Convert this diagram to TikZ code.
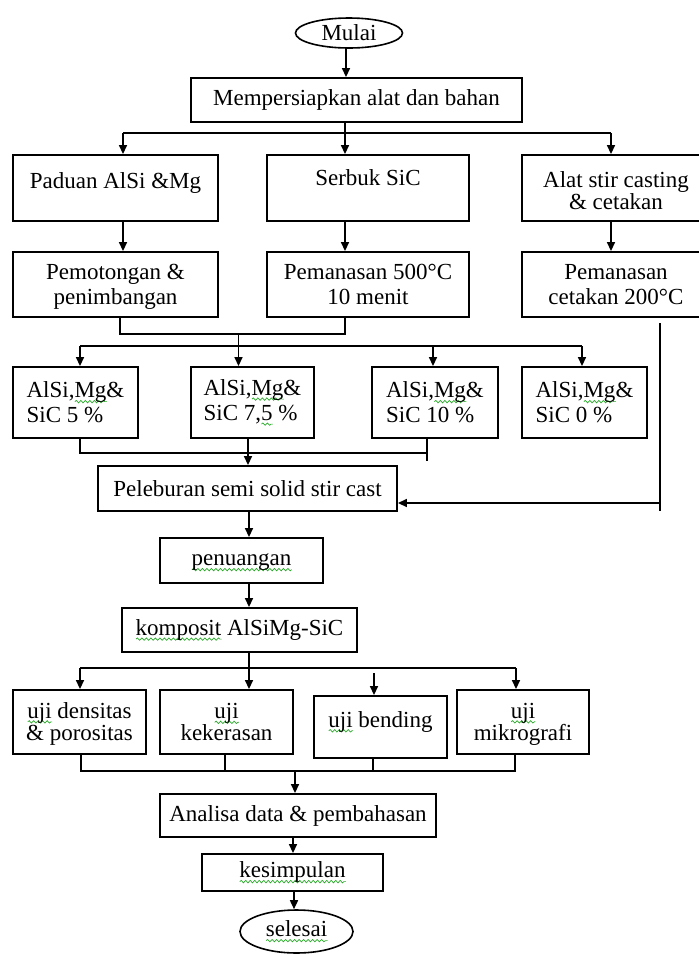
\documentclass[tikz,border=0pt]{standalone}
\usepackage{fontspec}
\setmainfont{Liberation Serif}
\usetikzlibrary{arrows.meta,shapes.geometric,decorations.pathmorphing}
\definecolor{sqgreen}{RGB}{40,170,40}
\newsavebox\sqbox
\newlength\sqlen
\newcommand\gsq[1]{\sbox\sqbox{#1}\settowidth\sqlen{\usebox\sqbox}%
  \rlap{\tikz[baseline=0pt,x=1pt,y=1pt]\draw[sqgreen,line width=0.7pt,decorate,
    decoration={snake,amplitude=1.2pt,segment length=4.5pt}] (0,-3.8) -- (\sqlen,-3.8);}%
  \usebox\sqbox}
\newcommand\vs[2]{\rule[-#2pt]{0pt}{\dimexpr#1pt+#2pt\relax}}
\begin{document}
\begin{tikzpicture}[x=1pt,y=-1pt,
  pbox/.style={draw, line width=1.9pt, rectangle, inner sep=0pt, align=center,
    font=\fontsize{23}{25}\selectfont},
  tbox/.style={pbox, font=\fontsize{23}{22}\selectfont},
  term/.style={draw, ellipse, line width=1.6pt, inner sep=0pt,
    font=\fontsize{23}{25}\selectfont},
  ln/.style={line width=1.6pt},
  arr/.style={ln, -{Triangle[length=9pt,width=8pt]}}]
\useasboundingbox (0,0) rectangle (699,954);
\clip (0,0) rectangle (699,954);
% nodes
\node[term, minimum width=107pt, minimum height=30pt] (mulai) at (349,33) {Mulai};
\node[pbox, minimum width=331pt, minimum height=44pt] (prep) at (356.5,100) {Mempersiapkan alat dan bahan};
\node[pbox, minimum width=205pt, minimum height=66pt] (paduan) at (115.5,188) {\vs{16}{16}Paduan AlSi \&Mg};
\node[pbox, minimum width=202pt, minimum height=66pt] (serbuk) at (368,188) {\vs{16}{22}Serbuk SiC};
\node[pbox, minimum width=188pt, minimum height=66pt, font=\fontsize{23}{22}\selectfont] (alat) at (616,188) {\vs{22}{0}Alat stir casting\\\& cetakan};
\node[pbox, minimum width=205pt, minimum height=65pt] (potong) at (115.5,284.5) {\vs{20}{0}Pemotongan \&\\penimbangan};
\node[pbox, minimum width=202pt, minimum height=65pt] (panas) at (368,284.5) {Pemanasan 500°C\\10 menit};
\node[pbox, minimum width=188pt, minimum height=65pt] (cetak) at (616,284.5) {Pemanasan\\cetakan 200°C};
\node[pbox, align=left, minimum width=125pt, minimum height=71pt] (k1) at (75.5,402.5) {AlSi,\gsq{Mg}\&\\SiC 5 \%};
\node[pbox, align=left, minimum width=123pt, minimum height=71pt] (k2) at (252.5,402.5) {AlSi,\gsq{Mg}\&\\SiC 7,\gsq{5} \%};
\node[pbox, align=left, minimum width=126pt, minimum height=71pt] (k3) at (435,402.5) {AlSi,\gsq{Mg}\&\\SiC 10 \%};
\node[pbox, align=left, minimum width=125pt, minimum height=71pt] (k4) at (584.5,402.5) {AlSi,\gsq{Mg}\&\\SiC 0 \%};
\node[pbox, minimum width=299pt, minimum height=45pt] (lebur) at (247.5,488.5) {Peleburan semi solid stir cast};
\node[pbox, minimum width=163pt, minimum height=45pt] (tuang) at (241.5,560.5) {\vs{16}{5}\gsq{penuangan}};
\node[pbox, minimum width=235pt, minimum height=44pt] (komp) at (239.5,630) {\gsq{komposit} AlSiMg-SiC};
\node[tbox, minimum width=133pt, minimum height=64pt] (u1) at (79.5,722) {\vs{19}{0}\gsq{uji} densitas\\\& porositas};
\node[tbox, minimum width=133pt, minimum height=64pt] (u2) at (226.5,722) {\gsq{uji}\\kekerasan};
\node[tbox, minimum width=133pt, minimum height=62pt] (u3) at (380.5,727) {\vs{16}{16}\gsq{uji} bending};
\node[tbox, minimum width=132pt, minimum height=64pt] (u4) at (523,722) {\vs{19}{0}\gsq{uji}\\mikrografi};
\node[pbox, minimum width=276pt, minimum height=43pt] (anal) at (298,815.5) {Analisa data \& pembahasan};
\node[pbox, minimum width=181pt, minimum height=37pt] (kes) at (292.5,872.5) {\gsq{kesimpulan}};
\node[term, minimum width=113pt, minimum height=43pt] (sel) at (296.5,931.5) {\gsq{selesai}};
% connectors
\coordinate (a0) at (346,48);
\draw[arr] (a0) -- (a0 |- prep.north);
\coordinate (s1) at (345,133);
\coordinate (s1l) at (123,133);
\coordinate (s1r) at (611,133);
\draw[ln] (s1 |- prep.south) -- (s1);
\draw[ln] (s1l) -- (s1r);
\draw[arr] (s1l) -- (s1l |- paduan.north);
\draw[arr] (s1) -- (s1 |- serbuk.north);
\draw[arr] (s1r) -- (s1r |- alat.north);
\draw[arr] (s1l |- paduan.south) -- (s1l |- potong.north);
\draw[arr] (s1 |- serbuk.south) -- (s1 |- panas.north);
\draw[arr] (s1r |- alat.south) -- (s1r |- cetak.north);
\coordinate (m1) at (120,334);
\coordinate (m2) at (345,334);
\coordinate (m3) at (238.5,334);
\coordinate (m4) at (238.5,346);
\coordinate (d1) at (80,346);
\coordinate (d3) at (433,346);
\coordinate (d4) at (582,346);
\draw[ln] (m1 |- potong.south) -- (m1) -- (m2) -- (m2 |- panas.south);
\draw[ln] (m3) -- (m4);
\draw[ln] (d1) -- (d4);
\draw[arr] (d1) -- (d1 |- k1.north);
\draw[arr] (m4) -- (m4 |- k2.north);
\draw[arr] (d3) -- (d3 |- k3.north);
\draw[arr] (d4) -- (d4 |- k4.north);
\coordinate (j1) at (80,453);
\coordinate (j2) at (248,453);
\coordinate (j3) at (427,453);
\coordinate (j3b) at (427,461);
\draw[ln] (j1 |- k1.south) -- (j1) -- (j3);
\draw[ln] (j3 |- k3.south) -- (j3b);
\draw[arr] (j2 |- k2.south) -- (j2 |- lebur.north);
\coordinate (r1) at (660,323);
\coordinate (r2) at (660,511);
\coordinate (r3) at (660,503);
\draw[ln] (r1) -- (r2);
\draw[arr] (r3) -- (r3 -| lebur.east);
\coordinate (c1) at (249,511);
\draw[arr] (c1 |- lebur.south) -- (c1 |- tuang.north);
\draw[arr] (c1 |- tuang.south) -- (c1 |- komp.north);
\coordinate (t0) at (249,668);
\coordinate (t1) at (80,668);
\coordinate (t4) at (516,668);
\coordinate (t3) at (374,673);
\draw[ln] (t0 |- komp.south) -- (t0);
\draw[ln] (t1) -- (t4);
\draw[arr] (t1) -- (t1 |- u1.north);
\draw[arr] (t0) -- (t0 |- u2.north);
\draw[arr] (t3) -- (t3 |- u3.north);
\draw[arr] (t4) -- (t4 |- u4.north);
\coordinate (b1) at (81,771);
\coordinate (b2) at (225,771);
\coordinate (b3) at (373,771);
\coordinate (b4) at (515,771);
\coordinate (b0) at (295,771);
\draw[ln] (b1 |- u1.south) -- (b1) -- (b4) -- (b4 |- u4.south);
\draw[ln] (b2 |- u2.south) -- (b2);
\draw[ln] (b3 |- u3.south) -- (b3);
\draw[arr] (b0) -- (b0 |- anal.north);
\coordinate (e1) at (293,837);
\draw[arr] (e1 |- anal.south) -- (e1 |- kes.north);
\coordinate (e2) at (294,891);
\draw[arr] (e2 |- kes.south) -- (e2 |- sel.north);
\end{tikzpicture}
\end{document}
